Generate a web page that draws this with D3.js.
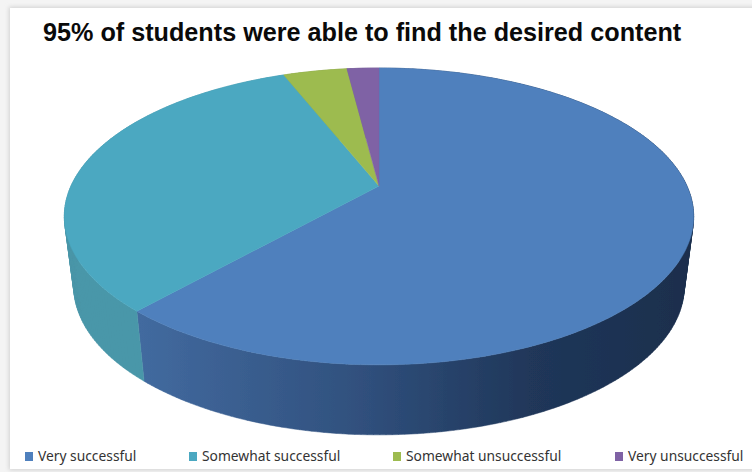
<!DOCTYPE html>
<html>
<head>
<meta charset="utf-8">
<script src="https://cdn.jsdelivr.net/npm/d3@7"></script>
<style>
    html, body { margin: 0; padding: 0; background: #f4f4f4; }
    svg { display: block; }
</style>
</head>
<body>
<script>
var categories = ["Very successful", "Somewhat successful", "Somewhat unsuccessful", "Very unsuccessful"];
var values = [61.6, 32.4, 4.0, 2.0];
var colors = ["#4f80bd", "#4ba8c1", "#9dbb4f", "#7f62a5"];
var chartTitle = "95% of students were able to find the desired content";

window.onload = function () {

    var w = 752, h = 472;

    //tilted disc: center of the pie sits above the center of the ellipse
    var cx = 379, cy = 186, persp = -0.205, scaleX = 308, scaleY = 142.2, depth = 70;
    //bottom of the disc is a little narrower than the top
    var bottomShrink = 0.97;

    var svg = d3.select("body")
        .append("svg")
        .attr("width", w)
        .attr("height", h);

    var defs = svg.append("defs");

    defs.append("filter").attr("id", "panelBlur")
        .append("feGaussianBlur").attr("stdDeviation", 2);

    defs.append("filter").attr("id", "soft")
        .append("feGaussianBlur").attr("stdDeviation", 0.45);

    //shading along the side wall of the large slice
    var grad = defs.append("linearGradient")
        .attr("id", "sideBlue")
        .attr("gradientUnits", "userSpaceOnUse")
        .attr("x1", 140).attr("x2", 694).attr("y1", 0).attr("y2", 0);
    grad.append("stop").attr("offset", "0").attr("stop-color", "#426a9f");
    grad.append("stop").attr("offset", "0.4").attr("stop-color", "#30507d");
    grad.append("stop").attr("offset", "0.7").attr("stop-color", "#20375a");
    grad.append("stop").attr("offset", "1").attr("stop-color", "#1a2e4c");

    var sideFill = ["url(#sideBlue)", "#4a97a9", "#7d9640", "#654e85"];

    //white panel with a faint shadow round it
    svg.append("rect")
        .attr("x", 9).attr("y", 7)
        .attr("width", w).attr("height", 463)
        .attr("fill", "#d0d0d0")
        .attr("filter", "url(#panelBlur)");
    svg.append("rect")
        .attr("x", 10).attr("y", 8)
        .attr("width", w).attr("height", 461)
        .attr("fill", "#ffffff");

    var pie = d3.pie().sort(null);
    var slices = pie(values);

    //pie angle (0 = top, clockwise) to screen position
    function project(a, r) {
        var u = r * Math.sin(a), v = -r * Math.cos(a);
        var d = 1 + persp * v;
        return [cx + scaleX * u / d, cy + scaleY * v / d];
    }

    function rim(s) {
        var steps = Math.max(4, Math.ceil((s.endAngle - s.startAngle) * 60));
        return d3.range(steps + 1).map(function(i) {
            return project(s.startAngle + (s.endAngle - s.startAngle) * i / steps, 1);
        });
    }

    function drop(p) {
        return [cx + (p[0] - cx) * bottomShrink, p[1] + depth];
    }

    var line = d3.line();
    var chart = svg.append("g").attr("filter", "url(#soft)");

    //side walls first, the top faces cover the hidden part
    //each wall is a strip of quads, all wound the same way so the fill has no holes
    chart.selectAll(".side")
        .data(slices)
        .enter()
        .append("path")
        .attr("class", "side")
        .attr("d", function(d) {
            var top = rim(d);
            return d3.pairs(top).map(function(pair) {
                var quad = [pair[0], pair[1], drop(pair[1]), drop(pair[0])];
                if (d3.polygonArea(quad) < 0) quad.reverse();
                return line(quad) + "Z";
            }).join("");
        })
        .style("fill", function(d, i) { return sideFill[i]; })
        .style("stroke", function(d, i) { return sideFill[i]; })
        .style("stroke-width", 0.5);

    chart.selectAll(".face")
        .data(slices)
        .enter()
        .append("path")
        .attr("class", "face")
        .attr("d", function(d) {
            return line([[cx, cy]].concat(rim(d))) + "Z";
        })
        .style("fill", function(d, i) { return colors[i]; })
        .style("stroke", function(d, i) { return colors[i]; })
        .style("stroke-width", 0.5);

    //title
    svg.append("text")
        .attr("x", 43)
        .attr("y", 41)
        .attr("font-family", "'Liberation Sans', Arial, sans-serif")
        .attr("font-weight", "bold")
        .attr("font-size", 25.2)
        .attr("fill", "#0a0a0a")
        .text(chartTitle);

    //legend
    var legendX = [25, 189, 393, 615];
    var legend = svg.selectAll(".legend")
        .data(categories)
        .enter()
        .append("g")
        .attr("class", "legend")
        .attr("transform", function(d, i) { return "translate(" + legendX[i] + ",0)"; });

    legend.append("rect")
        .attr("y", 452)
        .attr("width", 8)
        .attr("height", 9)
        .style("fill", function(d, i) { return colors[i]; });

    legend.append("text")
        .attr("x", 13)
        .attr("y", 461)
        .attr("font-family", "'Noto Sans', sans-serif")
        .attr("font-size", 13.8)
        .attr("fill", "#333333")
        .text(function(d) { return d; });
};
</script>
</body>
</html>
